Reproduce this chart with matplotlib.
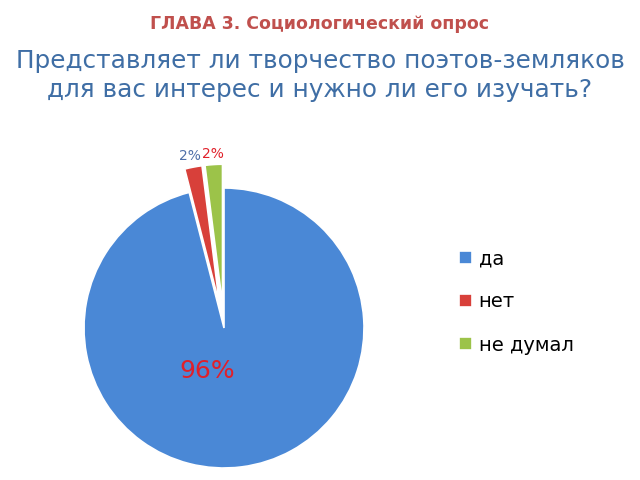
import numpy as np
import matplotlib.pyplot as plt

# Data
labels = ['да', 'нет', 'не думал']
values = [96, 2, 2]
colors = ['#4a88d6', '#d8403a', '#9cc349']
explode = [0, 0.17, 0.17]
label_colors = ['#e0202a', '#4f6fa8', '#e0202a']

fig = plt.figure(figsize=(6.4, 4.8), dpi=100)
fig.text(0.5, 0.951, 'ГЛАВА 3. Социологический опрос', ha='center', va='center',
         fontsize=12.5, fontweight='bold', color='#c0504d')
fig.text(0.5, 0.842, 'Представляет ли творчество поэтов-земляков\nдля вас интерес и нужно ли его изучать?',
         ha='center', va='center', fontsize=17.8, color='#3f6ea5', linespacing=1.25)

ax = fig.add_axes([224/640 - 140/640, (480 - 328 - 140)/480, 280/640, 280/480])
wedges, _ = ax.pie(values, colors=colors, explode=explode, startangle=90,
                   counterclock=False, radius=1.0,
                   wedgeprops=dict(edgecolor='white', linewidth=1.2))
for w in wedges:
    w.set_clip_on(False)
ax.set_xlim(-1, 1)
ax.set_ylim(-1, 1)
ax.set_aspect('equal')
ax.axis('off')

# percentage labels
total = sum(values)
ax.text(-0.12, -0.31, f'{values[0] / total:.0%}', ha='center', va='center',
        fontsize=18, color=label_colors[0])
ax.text(-0.24, 1.23, f'{values[1] / total:.0%}', ha='center', va='center',
        fontsize=10, color=label_colors[1])
ax.text(-0.08, 1.245, f'{values[2] / total:.0%}', ha='center', va='center',
        fontsize=10, color=label_colors[2])

leg = fig.legend(wedges, labels, loc='center left', bbox_to_anchor=(0.69, 0.371),
                 frameon=False, fontsize=14, handlelength=0.65, handleheight=0.65,
                 handletextpad=0.35, labelspacing=1.25)

fig.savefig('out.png', dpi=100)
